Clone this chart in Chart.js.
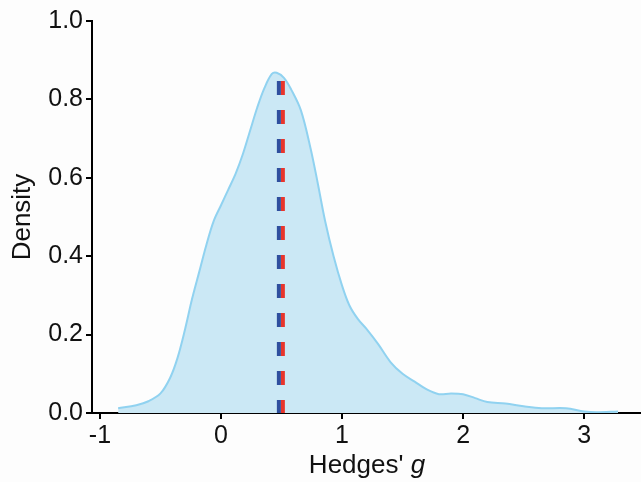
<!DOCTYPE html>
<html>
<head>
	<meta charset="UTF-8">
	<title>Hedges' g density</title>
	<script src="https://cdn.jsdelivr.net/npm/chart.js@4.4.1/dist/chart.umd.min.js"></script>
	<style>
		html, body { margin: 0; padding: 0; background: #fdfdfd; }
		#wrap { width: 641px; height: 482px; }
	</style>
</head>
<body>
	<div id="wrap"><canvas id="densityChart" width="641" height="482"></canvas></div>
<script>
	// density curve
	var gValues = [-0.85, -0.7, -0.6, -0.5, -0.42, -0.36, -0.3, -0.24, -0.18, -0.12, -0.06, 0.0, 0.06, 0.12, 0.18, 0.24, 0.30, 0.36, 0.42, 0.46, 0.52, 0.58, 0.66, 0.74, 0.80, 0.86, 0.93, 1.0, 1.06, 1.13, 1.2, 1.3, 1.4, 1.5, 1.6, 1.7, 1.8, 1.9, 2.0, 2.1, 2.2, 2.35, 2.5, 2.65, 2.85, 3.0, 3.1, 3.28];
	var densityValues = [0.012, 0.02, 0.03, 0.05, 0.09, 0.14, 0.21, 0.29, 0.36, 0.43, 0.49, 0.53, 0.57, 0.61, 0.66, 0.72, 0.78, 0.83, 0.865, 0.868, 0.855, 0.825, 0.772, 0.675, 0.585, 0.49, 0.40, 0.325, 0.275, 0.24, 0.215, 0.175, 0.13, 0.10, 0.08, 0.06, 0.048, 0.05, 0.048, 0.038, 0.028, 0.024, 0.017, 0.012, 0.012, 0.004, 0.002, 0.004];

	// the two dashed reference lines
	var blueLineX = 0.478;
	var redLineX = 0.511;
	var lineTop = 0.847;

	var xTicks = [-1, 0, 1, 2, 3];
	var yTicks = [0, 0.2, 0.4, 0.6, 0.8, 1.0];

	var curve = [];
	for (var i = 0; i < gValues.length; i++) {
		curve.push({ x: gValues[i], y: densityValues[i] });
	}

	// x title with an italic g
	var xTitlePlugin = {
		id: 'xTitle',
		afterDraw: function (chart) {
			var c = chart.ctx;
			c.save();
			c.fillStyle = '#111';
			c.textBaseline = 'alphabetic';
			c.textAlign = 'left';
			var a = "Hedges' ", b = 'g';
			c.font = '26px "Liberation Sans", Arial, sans-serif';
			var wa = c.measureText(a).width;
			c.font = 'italic 26px "Liberation Sans", Arial, sans-serif';
			var wb = c.measureText(b).width;
			var x0 = 367 - (wa + wb) / 2;
			c.font = '26px "Liberation Sans", Arial, sans-serif';
			c.fillText(a, x0, 473);
			c.font = 'italic 26px "Liberation Sans", Arial, sans-serif';
			c.fillText(b, x0 + wa, 473);
			c.restore();
		}
	};

	var ctx = document.getElementById('densityChart').getContext('2d');
	var densityChart = new Chart(ctx, {
		type: 'line',
		data: {
			datasets: [
				{
					data: [{ x: blueLineX, y: lineTop }, { x: blueLineX, y: 0 }],
					borderColor: '#2f4f9e',
					borderWidth: 4,
					borderDash: [14, 15],
					pointRadius: 0,
					fill: false,
					tension: 0,
					order: 0
				},
				{
					data: [{ x: redLineX, y: lineTop }, { x: redLineX, y: 0 }],
					borderColor: '#e8352b',
					borderWidth: 4,
					borderDash: [14, 15],
					pointRadius: 0,
					fill: false,
					tension: 0,
					order: 0
				},
				{
					data: curve,
					borderColor: '#90d2f0',
					backgroundColor: '#cbe8f5',
					borderWidth: 2,
					pointRadius: 0,
					fill: 'origin',
					tension: 0.35,
					order: 1
				}
			]
		},
		options: {
			responsive: false,
			animation: false,
			layout: { padding: { top: 21, right: 0, left: 0, bottom: 0 } },
			plugins: { legend: { display: false }, tooltip: { enabled: false } },
			scales: {
				x: {
					type: 'linear',
					min: -1.066,
					max: 3.47,
					afterBuildTicks: function (s) { s.ticks = xTicks.map(function (v) { return { value: v }; }); },
					afterFit: function (s) { s.height = 69; },
					border: { display: true, color: '#000', width: 2 },
					grid: { display: true, drawOnChartArea: false, drawTicks: true, tickLength: 6, color: '#000', lineWidth: 2 },
					ticks: { color: '#111', padding: 2, font: { family: '"Liberation Sans", Arial, sans-serif', size: 25 } }
				},
				y: {
					min: 0,
					max: 1.0,
					afterBuildTicks: function (s) { s.ticks = yTicks.map(function (v) { return { value: v }; }); },
					afterFit: function (s) { s.width = 92; },
					border: { display: true, color: '#000', width: 2 },
					grid: { display: true, drawOnChartArea: false, drawTicks: true, tickLength: 6, color: '#000', lineWidth: 2 },
					ticks: {
						color: '#111',
						padding: 3,
						font: { family: '"Liberation Sans", Arial, sans-serif', size: 25 },
						callback: function (v) { return Number(v).toFixed(1); }
					},
					title: {
						display: true,
						text: 'Density',
						color: '#111',
						padding: { top: 7, bottom: 0 },
						font: { family: '"Liberation Sans", Arial, sans-serif', size: 26 }
					}
				}
			}
		},
		plugins: [xTitlePlugin]
	});
</script>
</body>
</html>
